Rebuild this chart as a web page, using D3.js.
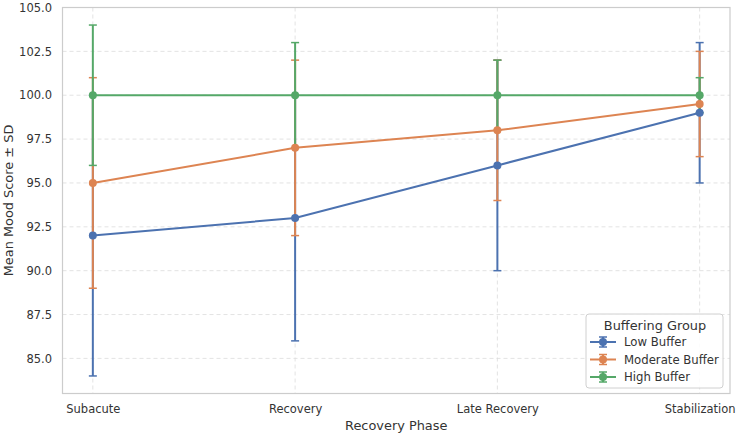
<!DOCTYPE html>
<html><head><meta charset="utf-8">
<script src="https://cdn.jsdelivr.net/npm/d3@7"></script>
<style>body{margin:0;background:#fff}svg{display:block}text{font-family:"DejaVu Sans",sans-serif}</style>
</head><body><svg id="c" width="737" height="435"></svg>
<script>
const categories = ["Subacute", "Recovery", "Late Recovery", "Stabilization"];
const seriesNames = ["Low Buffer", "Moderate Buffer", "High Buffer"];
const lowMean = [92, 93, 96, 99];
const lowSD = [8, 7, 6, 4];
const modMean = [95, 97, 98, 99.5];
const modSD = [6, 5, 4, 3];
const highMean = [100, 100, 100, 100];
const highSD = [4, 3, 2, 1];
const yTicks = [85, 87.5, 90, 92.5, 95, 97.5, 100, 102.5, 105];
const colors = ["#4c72b0", "#dd8452", "#55a868"];

const series = [
  {name: seriesNames[0], mean: lowMean, sd: lowSD, color: colors[0]},
  {name: seriesNames[1], mean: modMean, sd: modSD, color: colors[1]},
  {name: seriesNames[2], mean: highMean, sd: highSD, color: colors[2]}
];

const svg = d3.select("#c");
const L = 62.5, R = 730, T = 7.5, B = 393.5;
const x = d3.scaleLinear().domain([-0.15, 3.15]).range([L, R]);
const y = d3.scaleLinear().domain([83, 105]).range([B, T]);
const TXT = "#333";

// grid
const g = svg.append("g");
g.selectAll(".gy").data(yTicks).enter().append("line")
  .attr("x1", L).attr("x2", R).attr("y1", d => y(d)).attr("y2", d => y(d))
  .attr("stroke", "#dcdcdc").attr("stroke-width", 0.8).attr("stroke-dasharray", "4,3");
g.selectAll(".gx").data(categories).enter().append("line")
  .attr("x1", (d, i) => x(i)).attr("x2", (d, i) => x(i)).attr("y1", T).attr("y2", B)
  .attr("stroke", "#dcdcdc").attr("stroke-width", 0.8).attr("stroke-dasharray", "4,3");

// axes
const yAxis = d3.axisLeft(y).tickValues(yTicks).tickFormat(d3.format(".1f")).tickSize(0).tickPadding(10.5);
const ya = svg.append("g").attr("transform", `translate(${L},0)`).call(yAxis);
ya.select(".domain").remove();
ya.selectAll("text").attr("font-size", 11.5).attr("fill", TXT).attr("font-family", "DejaVu Sans");
const xAxis = d3.axisBottom(x).tickValues([0, 1, 2, 3]).tickFormat(i => categories[i]).tickSize(0).tickPadding(11);
const xa = svg.append("g").attr("transform", `translate(0,${B})`).call(xAxis);
xa.select(".domain").remove();
xa.selectAll("text").attr("font-size", 11.5).attr("fill", TXT).attr("font-family", "DejaVu Sans");

// frame
svg.append("rect").attr("x", L).attr("y", T).attr("width", R - L).attr("height", B - T)
  .attr("fill", "none").attr("stroke", "#cccccc").attr("stroke-width", 1.2);

// error bars (all series first)
series.forEach(s => {
  const sg = svg.append("g");
  s.mean.forEach((m, i) => {
    const lo = m - s.sd[i], hi = m + s.sd[i], cx = x(i);
    sg.append("line").attr("x1", cx).attr("x2", cx).attr("y1", y(lo)).attr("y2", y(hi))
      .attr("stroke", s.color).attr("stroke-width", 2);
    [lo, hi].forEach(v => sg.append("line").attr("x1", cx - 4).attr("x2", cx + 4)
      .attr("y1", y(v)).attr("y2", y(v)).attr("stroke", s.color).attr("stroke-width", 1.5));
  });
});
// lines + markers
const line = d3.line().x((d, i) => x(i)).y(d => y(d));
series.forEach(s => {
  const sg = svg.append("g");
  sg.append("path").attr("d", line(s.mean)).attr("fill", "none")
    .attr("stroke", s.color).attr("stroke-width", 2);
  sg.selectAll("circle").data(s.mean).enter().append("circle")
    .attr("cx", (d, i) => x(i)).attr("cy", d => y(d)).attr("r", 4).attr("fill", s.color);
});

// axis titles
svg.append("text").attr("x", (L + R) / 2).attr("y", 430).attr("text-anchor", "middle")
  .attr("font-size", 12.9).attr("fill", TXT).text("Recovery Phase");
svg.append("text").attr("transform", `translate(13,${(T + B) / 2}) rotate(-90)`)
  .attr("text-anchor", "middle").attr("font-size", 12.9).attr("fill", TXT).text("Mean Mood Score ± SD");

// legend
const lg = svg.append("g").attr("transform", "translate(586,314)");
lg.append("rect").attr("width", 137).attr("height", 74).attr("rx", 3)
  .attr("fill", "#fff").attr("fill-opacity", 0.85).attr("stroke", "#d0d0d0");
lg.append("text").attr("x", 69).attr("y", 16).attr("text-anchor", "middle")
  .attr("font-size", 12.9).attr("fill", TXT).text("Buffering Group");
series.forEach((s, i) => {
  const yy = 28 + i * 17.5;
  lg.append("line").attr("x1", 4).attr("x2", 30).attr("y1", yy).attr("y2", yy)
    .attr("stroke", s.color).attr("stroke-width", 2);
  lg.append("line").attr("x1", 17).attr("x2", 17).attr("y1", yy - 5).attr("y2", yy + 5)
    .attr("stroke", s.color).attr("stroke-width", 2);
  [yy - 5, yy + 5].forEach(v => lg.append("line").attr("x1", 13).attr("x2", 21)
    .attr("y1", v).attr("y2", v).attr("stroke", s.color).attr("stroke-width", 1.5));
  lg.append("circle").attr("cx", 17).attr("cy", yy).attr("r", 4).attr("fill", s.color);
  lg.append("text").attr("x", 38).attr("y", yy + 4).attr("font-size", 11.7).attr("fill", TXT).text(s.name);
});
</script></body></html>
